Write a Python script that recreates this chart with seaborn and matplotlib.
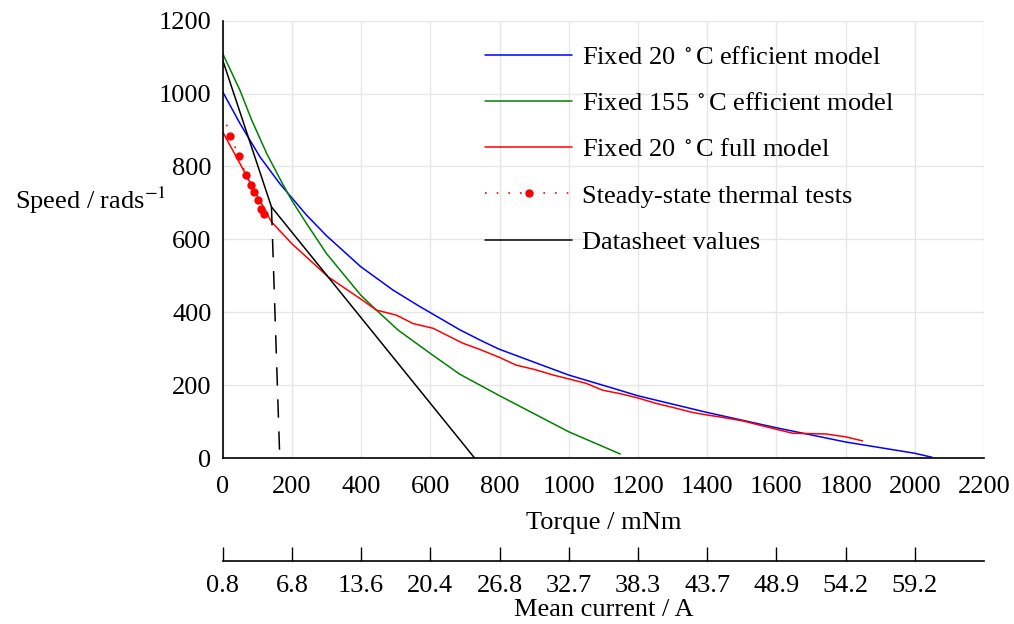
import numpy as np
import pandas as pd
import matplotlib
matplotlib.use("Agg")
import matplotlib.pyplot as plt
import seaborn as sns

# ---- data ----
blue_x = [0, 50, 108, 165, 199, 242, 300, 399, 492, 569, 600, 685, 743, 798, 999, 1147, 1199,
          1400, 1600, 1800, 2000, 2050]
blue_y = [1005, 918, 826, 753, 715, 667, 610, 525, 461, 416, 399, 352, 324, 299, 228, 186, 171,
          125, 83, 44, 13, 2]

green_x = [0, 50, 84, 127, 170, 199, 242, 300, 399, 444, 507, 600, 685, 800, 1000, 1149]
green_y = [1110, 1009, 927, 836, 758, 708, 644, 561, 447, 406, 351, 287, 230, 171, 72, 11]

red_x = [0, 50, 141, 199, 305, 401, 444, 502, 550, 608, 694, 743, 800, 848, 901, 954, 1000,
         1050, 1098, 1147, 1199, 1252, 1300, 1358, 1400, 1435, 1502, 1599, 1647, 1743, 1801, 1849]
red_y = [895, 808, 648, 589, 497, 435, 406, 392, 369, 356, 315, 298, 276, 255, 243, 228, 217,
         205, 186, 177, 165, 150, 139, 125, 118, 113, 102, 79, 68, 66, 58, 47]

test_x = [0, 22, 47, 67, 81, 90, 101, 112, 119]
test_y = [945, 885, 828, 777, 750, 731, 708, 684, 669]

sheet_x = [0, 141, 728]
sheet_y = [1092, 689, 0]

limit_x = [141, 165]
limit_y = [689, 0]

x_ticks = [0, 200, 400, 600, 800, 1000, 1200, 1400, 1600, 1800, 2000, 2200]
y_ticks = [0, 200, 400, 600, 800, 1000, 1200]
current_ticks = [0, 200, 400, 600, 800, 1000, 1200, 1400, 1600, 1800, 2000]
current_labels = ["0.8", "6.8", "13.6", "20.4", "26.8", "32.7", "38.3", "43.7", "48.9", "54.2", "59.2"]

labels = ["Fixed 20 $^\\circ$C efficient model",
          "Fixed 155 $^\\circ$C efficient model",
          "Fixed 20 $^\\circ$C full model",
          "Steady-state thermal tests",
          "Datasheet values"]

# ---- style ----
sns.set_theme(style="whitegrid")
plt.rcParams["font.family"] = ["Liberation Serif", "DejaVu Serif"]
plt.rcParams["mathtext.fontset"] = "stix"
plt.rcParams["axes.unicode_minus"] = True
plt.rcParams["text.color"] = "black"
plt.rcParams["axes.labelcolor"] = "black"
plt.rcParams["xtick.color"] = "black"
plt.rcParams["ytick.color"] = "black"

FS = 19
fig = plt.figure(figsize=(10.14, 6.24), dpi=100)
ax = fig.add_axes([0.2196, 0.266, 0.9704 - 0.2196, 0.9668 - 0.266])

lw = 1.1
sns.lineplot(data=pd.DataFrame({"x": blue_x, "y": blue_y}), x="x", y="y", ax=ax,
             color="#0000ff", lw=lw, label=labels[0], sort=False, estimator=None)
sns.lineplot(data=pd.DataFrame({"x": green_x, "y": green_y}), x="x", y="y", ax=ax,
             color="#008000", lw=lw, label=labels[1], sort=False, estimator=None)
sns.lineplot(data=pd.DataFrame({"x": red_x, "y": red_y}), x="x", y="y", ax=ax,
             color="#ff0000", lw=lw, label=labels[2], sort=False, estimator=None)
sns.lineplot(data=pd.DataFrame({"x": test_x, "y": test_y}), x="x", y="y", ax=ax,
             color="#ff0000", lw=1.2, linestyle=(0, (1, 6)), marker="o", markersize=6,
             markeredgewidth=0, markevery=slice(1, None), label=labels[3],
             sort=False, estimator=None)
sns.lineplot(data=pd.DataFrame({"x": sheet_x, "y": sheet_y}), x="x", y="y", ax=ax,
             color="black", lw=lw, label=labels[4], sort=False, estimator=None)
sns.lineplot(data=pd.DataFrame({"x": limit_x, "y": limit_y}), x="x", y="y", ax=ax,
             color="black", lw=lw, linestyle=(0, (12, 9)), sort=False, estimator=None,
             legend=False)

ax.set_xlim(0, 2200)
ax.set_ylim(0, 1200)
ax.set_xticks(x_ticks)
ax.set_yticks(y_ticks)
ax.tick_params(axis="both", direction="in", length=7, width=1, colors="black",
               labelsize=FS)
ax.tick_params(axis="y", pad=8)
ax.tick_params(axis="x", pad=13)
ax.grid(True, color="#e6e6e6", lw=1)
for s in ["top", "right"]:
    ax.spines[s].set_visible(False)
for s in ["left", "bottom"]:
    ax.spines[s].set_visible(True)
    ax.spines[s].set_color("black")
    ax.spines[s].set_linewidth(1.2)

ax.set_xlabel("Torque / mNm", fontsize=FS, color="black", labelpad=10)
ax.set_ylabel("Speed / rads$^{-1}$", fontsize=FS, color="black", rotation=0,
              ha="right", va="center")
ax.yaxis.set_label_coords(-0.074, 0.59)

sec = ax.secondary_xaxis(-0.235)
sec.set_xticks(current_ticks, labels=current_labels)
sec.tick_params(direction="in", length=10, width=1, colors="black", labelsize=FS, pad=10)
sec.spines["bottom"].set_color("black")
sec.spines["bottom"].set_linewidth(1.2)
sec.set_xlabel("Mean current / A", fontsize=FS, color="black", labelpad=2)

leg = ax.legend(loc="upper left", bbox_to_anchor=(0.344, 0.943), frameon=False,
                fontsize=FS, handlelength=3.33, handletextpad=0.38, labelspacing=0.86,
                borderaxespad=0, borderpad=0, numpoints=1)
for t in leg.get_texts():
    t.set_color("black")

fig.savefig("out.png", dpi=100)
